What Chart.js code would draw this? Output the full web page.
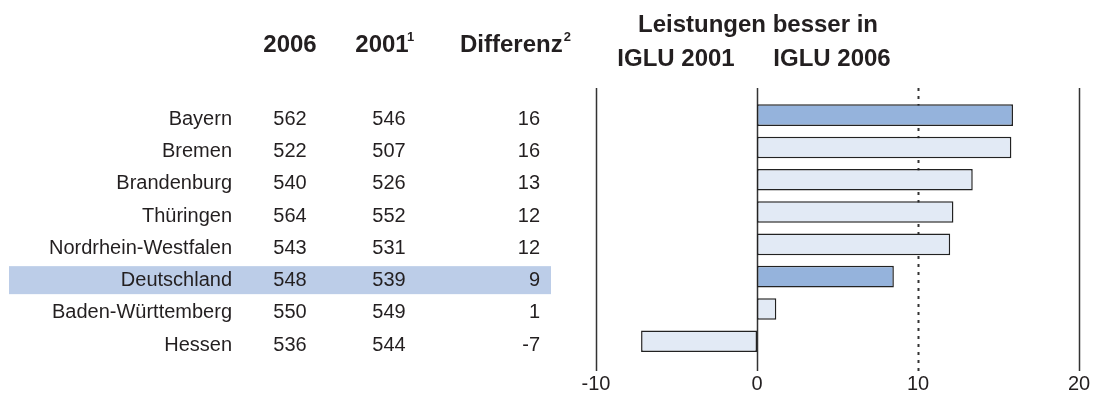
<!DOCTYPE html>
<html>
<head>
<meta charset="utf-8">
<script src="https://cdn.jsdelivr.net/npm/chart.js@4"></script>
<style>
  body { margin: 0; background: #fff; }
  canvas { display: block; }
</style>
</head>
<body>
<canvas id="myChart" width="1101" height="401"></canvas>
<script>
// data
var states = ["Bayern", "Bremen", "Brandenburg", "Thüringen", "Nordrhein-Westfalen", "Deutschland", "Baden-Württemberg", "Hessen"];
var score2006 = [562, 522, 540, 564, 543, 548, 550, 536];
var score2001 = [546, 507, 526, 552, 531, 539, 549, 544];
var diffLabels = [16, 16, 13, 12, 12, 9, 1, -7];
var diffBars = [15.9, 15.8, 13.4, 12.2, 12.0, 8.5, 1.2, -7.2];
var darkRows = [true, false, false, false, false, true, false, false];
var xTicks = [-10, 0, 10, 20];

var FONT = "'Liberation Sans', Arial, sans-serif";
var TEXT = "#231f20";

// table on the left + headers + vertical lines
var tablePlugin = {
  id: "table",
  beforeDatasetsDraw: function (chart) {
    var ctx = chart.ctx;
    var x = chart.scales.x;
    var y = chart.scales.y;
    var top = 88, bottom = 371;

    // highlight band for Deutschland
    var di = states.indexOf("Deutschland");
    var cy = y.getPixelForValue(di) + 3.5;
    ctx.save();
    ctx.fillStyle = "#bccde8";
    ctx.fillRect(9, cy - 14, 542, 28);

    // vertical lines
    ctx.strokeStyle = "#333";
    xTicks.forEach(function (t) {
      var px = Math.round(x.getPixelForValue(t)) + 0.5;
      ctx.beginPath();
      if (t === 10) {
        ctx.setLineDash([3, 5]);
        ctx.lineWidth = 2;
      } else {
        ctx.setLineDash([]);
        ctx.lineWidth = 1.5;
      }
      ctx.moveTo(px, top);
      ctx.lineTo(px, bottom);
      ctx.stroke();
    });
    ctx.restore();
  },
  afterDraw: function (chart) {
    var ctx = chart.ctx;
    var y = chart.scales.y;
    ctx.save();
    ctx.fillStyle = TEXT;
    ctx.textBaseline = "middle";
    ctx.font = "20px " + FONT;
    states.forEach(function (s, i) {
      var cy = y.getPixelForValue(i) + 4;
      ctx.textAlign = "right";
      ctx.fillText(s, 232, cy);
      ctx.textAlign = "center";
      ctx.fillText(String(score2006[i]), 290, cy);
      ctx.fillText(String(score2001[i]), 389, cy);
      ctx.textAlign = "right";
      ctx.fillText(String(diffLabels[i]), 540, cy);
    });

    // headers
    ctx.textBaseline = "alphabetic";
    ctx.font = "bold 24px " + FONT;
    ctx.textAlign = "center";
    ctx.fillText("2006", 290, 52);
    ctx.fillText("2001", 382, 52);
    ctx.textAlign = "left";
    ctx.fillText("Differenz", 460, 52);
    var wDiff = ctx.measureText("Differenz").width;
    ctx.font = "bold 13px " + FONT;
    ctx.fillText("1", 407, 41);
    ctx.fillText("2", 460 + wDiff + 1, 41);

    ctx.font = "bold 24px " + FONT;
    ctx.textAlign = "center";
    ctx.fillText("Leistungen besser in", 758, 32);
    ctx.fillText("IGLU 2001", 676, 66);
    ctx.fillText("IGLU 2006", 832, 66);
    ctx.restore();
  }
};

var ctx = document.getElementById("myChart").getContext("2d");
var chart = new Chart(ctx, {
  type: "bar",
  data: {
    labels: states,
    datasets: [
      {
        label: "Differenz",
        data: diffBars,
        backgroundColor: darkRows.map(function (d) { return d ? "#95b3dc" : "#e2eaf5"; }),
        borderColor: "#222",
        borderWidth: 1.5,
        borderSkipped: false,
        barPercentage: 0.67,
        categoryPercentage: 1
      }
    ]
  },
  options: {
    indexAxis: "y",
    responsive: false,
    animation: false,
    layout: {
      padding: { left: 596, right: 22, top: 99, bottom: 0 }
    },
    plugins: {
      legend: { display: false },
      tooltip: { enabled: false }
    },
    scales: {
      x: {
        min: -10,
        max: 20,
        afterBuildTicks: function (scale) {
          scale.ticks = xTicks.map(function (v) { return { value: v }; });
        },
        afterFit: function (scale) {
          scale.height = 43.6;
          scale.paddingLeft = 0;
          scale.paddingRight = 0;
        },
        grid: { display: false, drawTicks: false },
        border: { display: false },
        ticks: {
          padding: 15,
          color: TEXT,
          font: { family: FONT, size: 20 },
          maxRotation: 0
        }
      },
      y: {
        display: false
      }
    }
  },
  plugins: [tablePlugin]
});
</script>
</body>
</html>
